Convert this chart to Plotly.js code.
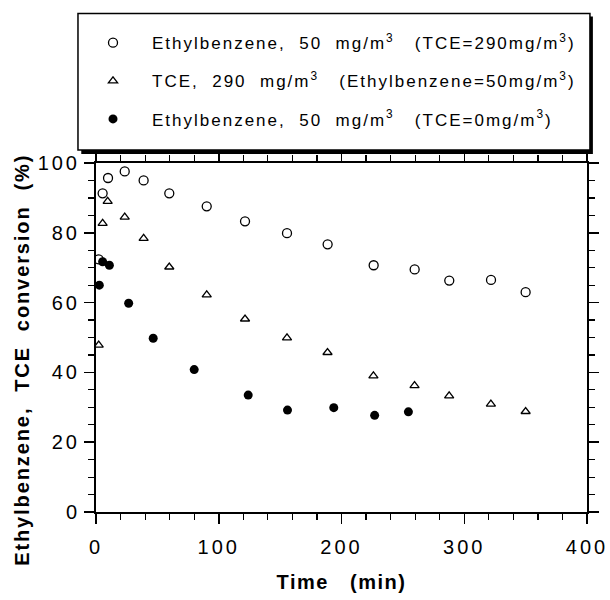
<!DOCTYPE html>
<html>
<head>
<meta charset="utf-8">
<script src="https://cdn.plot.ly/plotly-3.0.1.min.js"></script>
<style>
  body { margin: 0; background: #fff; }
  #chart { width: 610px; height: 600px; }
  .xtick text, .ytick text { letter-spacing: 3px; }
  .legendtext { letter-spacing: 2px; }
  .g-xtitle text { letter-spacing: 1.5px; }
  .annotation-text { letter-spacing: 1.9px; }
</style>
</head>
<body>
<div id="chart"></div>
<script>
// Ethylbenzene, 50 mg/m3 (TCE = 290 mg/m3) — open circles
const ebMixTime = [2.2, 5.4, 9.8, 23.4, 38.8, 59.7, 90.2, 121.4, 155.6, 188.7, 226.2, 259.6, 287.8, 321.8, 350];
const ebMixConv = [72.4, 91.3, 95.7, 97.6, 95.0, 91.3, 87.6, 83.3, 79.9, 76.7, 70.7, 69.5, 66.3, 66.5, 63.0];

// TCE, 290 mg/m3 (Ethylbenzene = 50 mg/m3) — open triangles
const tceTime = [2.2, 5.4, 9.5, 23.4, 38.8, 59.7, 90.2, 121.4, 155.6, 188.6, 226.0, 259.5, 287.7, 321.7, 350];
const tceConv = [47.8, 82.7, 89.0, 84.5, 78.4, 70.2, 62.2, 55.3, 49.9, 45.7, 39.0, 36.2, 33.3, 30.9, 28.8];

// Ethylbenzene, 50 mg/m3 (TCE = 0 mg/m3) — filled circles
const ebOnlyTime = [2.7, 5.4, 10.9, 26.6, 46.6, 80.0, 124.0, 156.0, 193.7, 227.0, 254.5];
const ebOnlyConv = [65.0, 71.7, 70.7, 59.8, 49.8, 40.8, 33.5, 29.2, 29.9, 27.7, 28.7];

const seriesNames = [
  'Ethylbenzene,\u00a0 50\u00a0 mg/m<sup>3</sup>\u00a0\u00a0 (TCE=290mg/m<sup>3</sup>)',
  'TCE,\u00a0 290\u00a0 mg/m<sup>3</sup>\u00a0\u00a0 (Ethylbenzene=50mg/m<sup>3</sup>)',
  'Ethylbenzene,\u00a0 50\u00a0 mg/m<sup>3</sup>\u00a0\u00a0 (TCE=0mg/m<sup>3</sup>)'
];

const xTickVals = [0, 100, 200, 300, 400];
const yTickVals = [0, 20, 40, 60, 80, 100];
const xTitle = 'Time\u00a0\u00a0\u00a0(min)';
const yTitle = 'Ethylbenzene,\u00a0\u00a0TCE\u00a0\u00a0conversion\u00a0\u00a0(%)';

const FONT = 'Liberation Sans, Arial, Helvetica, sans-serif';

const traces = [
  {
    x: ebMixTime, y: ebMixConv, name: seriesNames[0], mode: 'markers', type: 'scatter',
    legendgroup: 'a',
    marker: { symbol: 'circle-open', size: 9, color: '#000', line: { width: 1.3, color: '#000' } }
  },
  {
    x: tceTime, y: tceConv, name: seriesNames[1], mode: 'markers', type: 'scatter',
    legendgroup: 'b',
    marker: { symbol: 'triangle-up-open', size: 8, color: '#000', line: { width: 1.3, color: '#000' } }
  },
  {
    x: ebOnlyTime, y: ebOnlyConv, name: seriesNames[2], mode: 'markers', type: 'scatter',
    legendgroup: 'c',
    marker: { symbol: 'circle', size: 9, color: '#000' }
  }
];

const axisCommon = {
  showgrid: false, zeroline: false, showline: true, linecolor: '#000', linewidth: 2,
  ticks: 'outside', ticklen: 10, tickwidth: 1.5, tickcolor: '#000', mirror: 'allticks',
  tickfont: { family: FONT, size: 20, color: '#000' }
};

const layout = {
  width: 610, height: 600,
  margin: { l: 96, r: 23, t: 163, b: 88 },
  paper_bgcolor: '#fff', plot_bgcolor: '#fff',
  showlegend: true,
  font: { family: FONT, color: '#000' },
  xaxis: Object.assign({}, axisCommon, {
    range: [0, 400], tickvals: xTickVals, ticktext: xTickVals.map(String),
    ticklabelstandoff: 6,
    minor: { dtick: 20, ticklen: 6, tickwidth: 1.2, tickcolor: '#000', ticks: 'outside' },
    title: { text: '<b>' + xTitle + '</b>', font: { family: FONT, size: 20, color: '#000' }, standoff: 18 }
  }),
  yaxis: Object.assign({}, axisCommon, {
    range: [0, 100], tickvals: yTickVals, ticktext: yTickVals.map(String),
    minor: { dtick: 5, ticklen: 6, tickwidth: 1.2, tickcolor: '#000', ticks: 'outside' }
  }),
  annotations: [
    { text: '<b>' + yTitle + '</b>', xref: 'paper', yref: 'paper', x: -0.150, y: 0.437,
      xanchor: 'center', yanchor: 'middle', textangle: -90, showarrow: false,
      font: { family: FONT, size: 20, color: '#000' } }
  ],
  legend: {
    x: -0.0448, y: 1.395, xanchor: 'left', yanchor: 'top',
    bgcolor: 'rgba(0,0,0,0)', borderwidth: 0,
    font: { family: FONT, size: 17, color: '#000' },
    tracegroupgap: 13, itemwidth: 68
  },
  shapes: [
    { type: 'rect', xref: 'paper', yref: 'paper', x0: -0.030, x1: 1.012, y0: 1.026, y1: 1.420,
      fillcolor: '#000', line: { width: 0 }, layer: 'above' },
    { type: 'rect', xref: 'paper', yref: 'paper', x0: -0.0367, x1: 1.006, y0: 1.037, y1: 1.4286,
      fillcolor: '#fff', line: { width: 1.5, color: '#000' }, layer: 'above' }
  ]
};

Plotly.newPlot('chart', traces, layout, { displayModeBar: false, staticPlot: true });
</script>
</body>
</html>
